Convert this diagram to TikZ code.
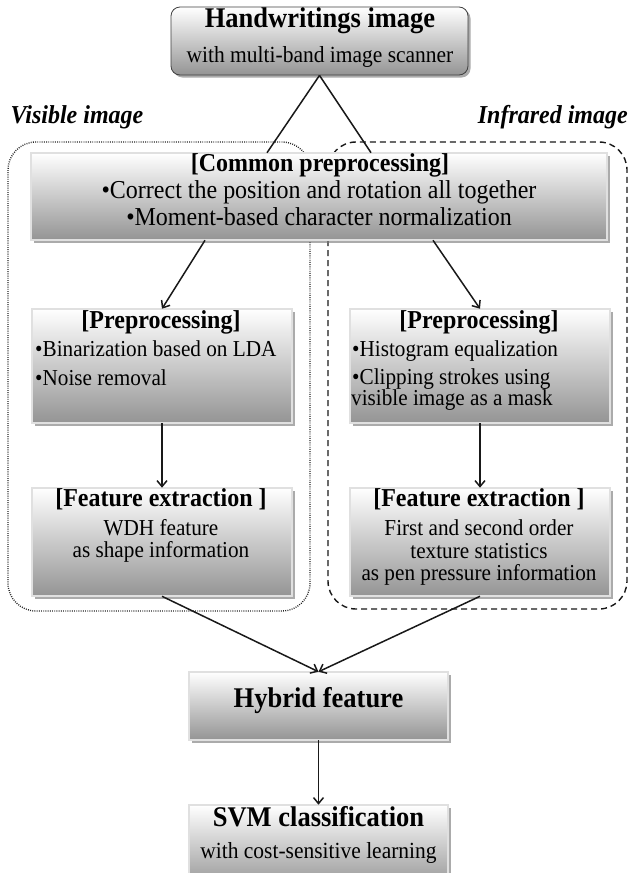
\documentclass[tikz,border=0pt]{standalone}
\usepackage{fontspec}
\setmainfont{Liberation Serif}[FakeStretch=0.93]
\usetikzlibrary{arrows.meta,shadows,calc}
\begin{document}
\begin{tikzpicture}[x=1pt,y=-1pt,
  shade/.style={top color=white, bottom color=black!42},
  shad/.style={drop shadow={shadow xshift=2.5pt, shadow yshift=-2.5pt, fill=black!55, opacity=0.6}},
  box/.style={shade, shad, draw=black!85, line width=0.55pt, double=black!12, double distance=1.1pt, inner sep=0pt},
  rbox/.style={shade, shad, draw=black!75, line width=0.8pt, rounded corners=9pt, inner sep=0pt},
  lbl/.style={inner sep=0pt, text height=0.68em, text depth=0.2em},
  big/.style={lbl, font=\fontsize{28.5}{32}\selectfont\bfseries},
  hd/.style={lbl, font=\fontsize{25.8}{29}\selectfont\bfseries},
  ctx/.style={lbl, font=\fontsize{25.8}{29}\selectfont},
  tx/.style={lbl, font=\fontsize{22.8}{25}\selectfont},
  sub/.style={lbl, font=\fontsize{23.1}{26}\selectfont},
  side/.style={lbl, font=\fontsize{25.8}{29}\selectfont\bfseries\itshape},
  conn/.style={line width=1.5pt, black!90},
  arr/.style={conn, -{Straight Barb[length=6pt,width=10pt]}}
]
\clip (0,0) rectangle (631,873);
\fill[white] (0,0) rectangle (631,873);
% group frames
\draw[line width=1.4pt, dash pattern=on 0.9pt off 1.3pt, rounded corners=28pt, black!85] (8,142) rectangle (310,611);
\draw[line width=1.4pt, dash pattern=on 6pt off 4pt, rounded corners=28pt, black!90] (328,142) rectangle (627,609);
\node[side] (vis) at (77,121) {Visible image};
\node[side, anchor=east] (ir) at (628,121) {Infrared image};
% top
\node[rbox, minimum width=297pt, minimum height=68pt] (top) at (319.5,41) {};
\node[big] (topt) at (320,25) {Handwritings image};
\node[sub] (tops) at (320,60) {with multi-band image scanner};
% common
\node[box, minimum width=576pt, minimum height=87pt] (common) at (319,196.5) {};
\node[hd] (ch) at (320,169) {[Common preprocessing]};
\node[ctx] (c1) at (319,196) {•Correct the position and rotation all together};
\node[ctx] (c2) at (319,223) {•Moment-based character normalization};
\draw[conn] (top.south) -- ($(common.north)+(-52,0)$);
\draw[conn] (top.south) -- ($(common.north)+(52,0)$);
% preprocessing
\node[box, minimum width=260pt, minimum height=114pt] (lpre) at (162,366) {};
\node[box, minimum width=260pt, minimum height=114pt] (rpre) at (480,366) {};
\node[hd] (lpreh) at (161,326) {[Preprocessing]};
\node[hd] (rpreh) at (479,326) {[Preprocessing]};
\node[tx, anchor=west] (lp1) at (35,354) {•Binarization based on LDA};
\node[tx, anchor=west] (lp2) at (35,383) {•Noise removal};
\node[tx, anchor=west] (rp1) at (352,354) {•Histogram equalization};
\node[tx, anchor=west] (rp2) at (352,382) {•Clipping strokes using};
\node[tx, anchor=west] (rp3) at (351,403) {visible image as a mask};
\draw[arr] ($(common.south)+(-114,0)$) -- (lpre.north);
\draw[arr] ($(common.south)+(114,0)$) -- (rpre.north);
% feature extraction
\node[box, minimum width=260pt, minimum height=108pt] (lfe) at (162,542) {};
\node[box, minimum width=260pt, minimum height=108pt] (rfe) at (480,542) {};
\node[hd] (lfeh) at (161,504) {[Feature extraction ]};
\node[hd] (rfeh) at (479,504) {[Feature extraction ]};
\node[tx] (lf1) at (161,533) {WDH feature};
\node[tx] (lf2) at (161,555) {as shape information};
\node[tx] (rf1) at (479,533) {First and second order};
\node[tx] (rf2) at (479,556) {texture statistics};
\node[tx] (rf3) at (479,578) {as pen pressure information};
\draw[arr] (lpre.south) -- (lfe.north);
\draw[arr] (rpre.south) -- (rfe.north);
% hybrid
\node[box, minimum width=259pt, minimum height=68pt] (hyb) at (318.5,706) {};
\node[big] (hybt) at (318.5,705) {Hybrid feature};
\draw[arr] (lfe.south) -- (hyb.north);
\draw[arr] (rfe.south) -- (hyb.north);
% svm
\node[box, minimum width=259pt, minimum height=84pt] (svm) at (318.5,847) {};
\node[big] (svmt) at (318.5,824) {SVM classification};
\node[sub] (svms) at (318.5,856) {with cost-sensitive learning};
\draw[arr] (hyb.south) -- (svm.north);
\end{tikzpicture}
\end{document}
